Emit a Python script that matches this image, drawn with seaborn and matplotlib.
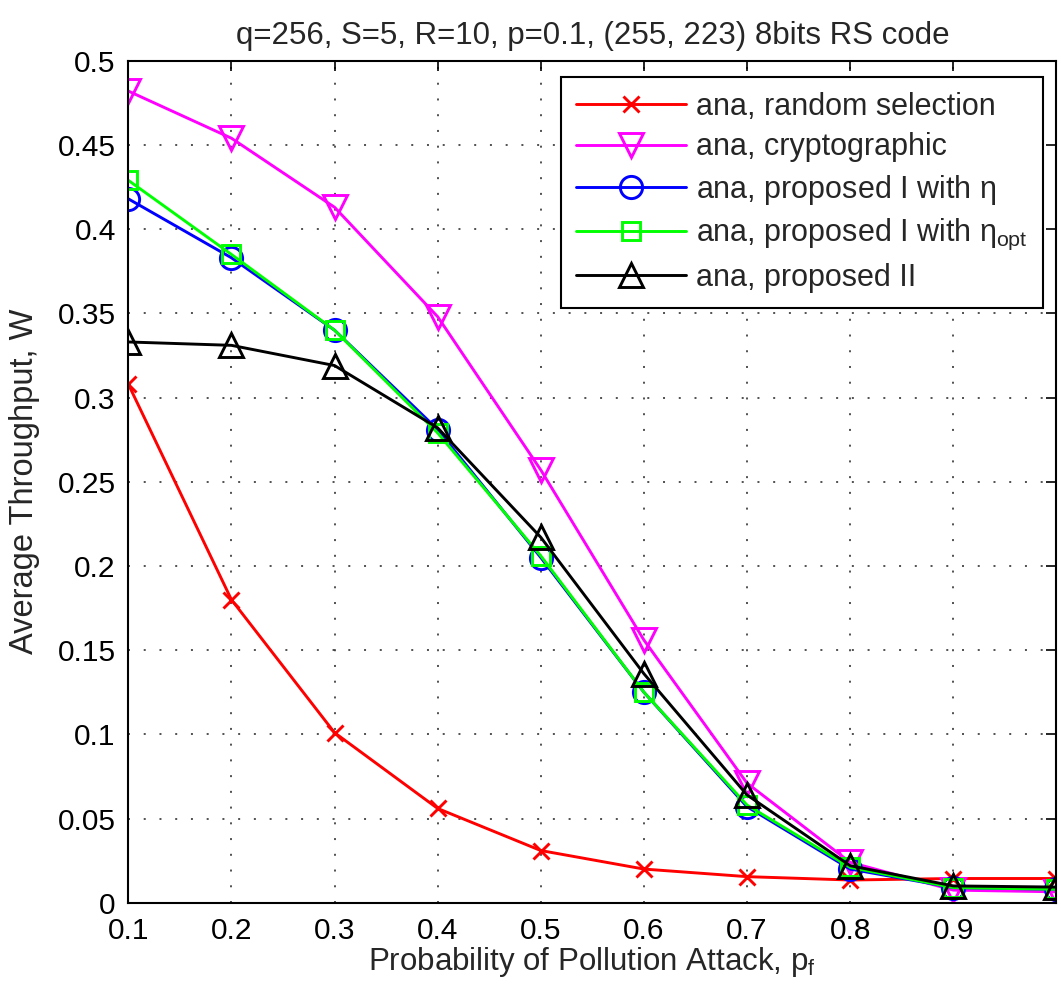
import matplotlib
matplotlib.use("Agg")
import matplotlib.pyplot as plt
import seaborn as sns
import pandas as pd

# Pollution-attack probability p_f
p_f = [0.1, 0.2, 0.3, 0.4, 0.5, 0.6, 0.7, 0.8, 0.9, 1.0]

# Average throughput W for each scheme
random_selection = [0.308, 0.180, 0.101, 0.056, 0.031, 0.020, 0.0155, 0.0135, 0.0144, 0.0144]
cryptographic = [0.482, 0.454, 0.413, 0.348, 0.257, 0.156, 0.071, 0.024, 0.0075, 0.0065]
proposed_eta = [0.418, 0.383, 0.340, 0.281, 0.205, 0.125, 0.057, 0.020, 0.0090, 0.0080]
proposed_eta_opt = [0.429, 0.385, 0.340, 0.279, 0.206, 0.125, 0.058, 0.021, 0.0090, 0.0080]
proposed_ii = [0.333, 0.331, 0.319, 0.282, 0.217, 0.136, 0.064, 0.022, 0.0100, 0.0093]

labels = [
    "ana, random selection",
    "ana, cryptographic",
    r"ana, proposed I with $\eta$",
    r"ana, proposed I with $\eta_{\mathrm{opt}}$",
    "ana, proposed II",
]
series = [random_selection, cryptographic, proposed_eta, proposed_eta_opt, proposed_ii]
colors = ["#ff0000", "#ff00ff", "#0000ff", "#00ff00", "#000000"]
markers = ["x", "v", "o", "s", "^"]
msizes = [11, 17, 16, 13, 17]

xticks = [0.1, 0.2, 0.3, 0.4, 0.5, 0.6, 0.7, 0.8, 0.9]
yticks = [0, 0.05, 0.1, 0.15, 0.2, 0.25, 0.3, 0.35, 0.4, 0.45, 0.5]
ytick_labels = ["0", "0.05", "0.1", "0.15", "0.2", "0.25", "0.3", "0.35", "0.4", "0.45", "0.5"]

sns.set_theme(style="white")
plt.rcParams["font.family"] = ["Liberation Sans", "DejaVu Sans"]
plt.rcParams["mathtext.fontset"] = "custom"
plt.rcParams["mathtext.rm"] = "Liberation Sans"
plt.rcParams["mathtext.it"] = "Liberation Sans"
plt.rcParams["mathtext.bf"] = "Liberation Sans"

fig = plt.figure(figsize=(10.61, 9.94), dpi=100)
ax = fig.add_axes([0.1209, 0.0918, 0.8748, 0.8471])

for vals, lab, col, mk, ms in zip(series, labels, colors, markers, msizes):
    df = pd.DataFrame({"p": p_f, "W": vals})
    sns.lineplot(data=df, x="p", y="W", ax=ax, color=col, linewidth=2.1,
                 marker=mk, markersize=ms, markerfacecolor="none",
                 markeredgecolor=col, markeredgewidth=2.1, label=lab)

ax.set_xlim(0.1, 1.0)
ax.set_ylim(0, 0.5)
ax.set_xticks(xticks)
ax.set_xticklabels([f"{t:g}" for t in xticks])
ax.set_yticks(yticks)
ax.set_yticklabels(ytick_labels)
ax.grid(True, linestyle=(0, (1.3, 9.0)), color="#222222", linewidth=1.1)
ax.tick_params(axis="both", which="both", direction="in", length=7, width=1.2,
               top=True, right=True, labelsize=21.5, colors="black")
ax.tick_params(axis="x", pad=10)
ax.tick_params(axis="y", pad=9)
for s in ax.spines.values():
    s.set_color("black")
    s.set_linewidth(1.5)

ax.set_xlabel(r"Probability of Pollution Attack, p$_{\mathrm{f}}$", fontsize=22.5, labelpad=0)
ax.set_ylabel("Average Throughput, W", fontsize=23.5, labelpad=13)
ax.set_title("q=256, S=5, R=10, p=0.1, (255, 223) 8bits RS code", fontsize=22.5, pad=12)

leg = ax.legend(loc="upper right", bbox_to_anchor=(0.986, 0.981), borderaxespad=0,
                fontsize=22, frameon=True, fancybox=False,
                edgecolor="black", framealpha=1,
                handlelength=3.6, handletextpad=0.35, labelspacing=0.34,
                borderpad=0.5)
leg.get_frame().set_linewidth(1.5)

fig.savefig("out.png", dpi=100)
